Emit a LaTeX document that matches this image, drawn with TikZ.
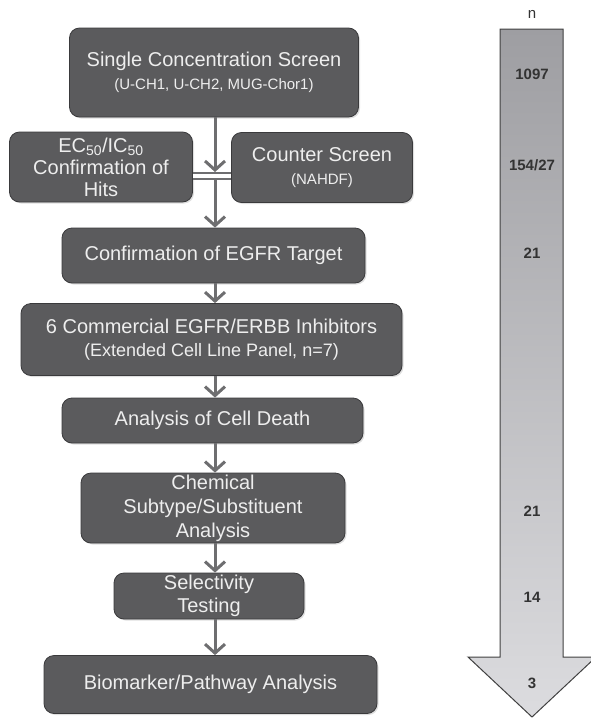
\documentclass[tikz,border=0pt]{standalone}
\usepackage{fontspec}
\setmainfont{Liberation Sans}
\usepackage{tikz}
\usetikzlibrary{arrows.meta,shadows}
\definecolor{boxfill}{HTML}{5B5B5D}
\definecolor{boxline}{HTML}{3A3A3C}
\definecolor{boxtext}{HTML}{EEEEEE}
\definecolor{flowgray}{HTML}{6E6E70}
\definecolor{funneltop}{HTML}{9E9EA2}
\definecolor{funnelbot}{HTML}{DCDCDF}

\begin{document}
\begin{tikzpicture}[x=1pt,y=-1pt,>={Straight Barb[length=9pt,width=20pt]},
stage/.style={draw=boxline,line width=0.8pt,fill=boxfill,rounded corners=10pt,text=boxtext,align=center,inner sep=0pt,
 font=\fontsize{20}{23}\selectfont,drop shadow={opacity=0.25,shadow xshift=1.5pt,shadow yshift=-1.5pt}},
flow/.style={->,draw=flowgray,line width=3pt},
count/.style={font=\fontsize{15}{17}\selectfont\bfseries,text=black!80}]
\useasboundingbox (0,0) rectangle (590,718);
% screening funnel
\node[stage,minimum width=289pt,minimum height=89pt] (single) at (214,72.5) {Single Concentration Screen\\{\fontsize{15}{17}\selectfont(U-CH1, U-CH2, MUG-Chor1)}};
\node[stage,minimum width=183pt,minimum height=70pt,font=\fontsize{20}{22}\selectfont] (hits) at (101,167) {EC\textsubscript{50}/IC\textsubscript{50}\\Confirmation of\\Hits};
\node[stage,minimum width=181pt,minimum height=70pt] (counter) at (322,167.5) {Counter Screen\\{\fontsize{15}{17}\selectfont(NAHDF)}};
\node[stage,minimum width=303pt,minimum height=55pt] (target) at (213.5,255.5) {Confirmation of EGFR Target};
\node[stage,minimum width=381pt,minimum height=72pt] (inhib) at (211.5,339.5) {6 Commercial EGFR/ERBB Inhibitors\\{\fontsize{18}{20}\selectfont(Extended Cell Line Panel, n=7)}};
\node[stage,minimum width=301pt,minimum height=45pt] (death) at (212.5,420.5) {Analysis of Cell Death};
\node[stage,minimum width=264pt,minimum height=70pt,font=\fontsize{20}{24}\selectfont] (chem) at (213,508) {Chemical\\Subtype/Substituent\\Analysis};
\node[stage,minimum width=190pt,minimum height=46pt] (select) at (209,596) {Selectivity\\Testing};
\node[stage,minimum width=333pt,minimum height=58pt] (marker) at (210.5,684.5) {Biomarker/Pathway Analysis};
\coordinate (spine) at (215,0);
\coordinate (joint) at (215,176);
\draw[flow] (single.south -| spine) -- ([yshift=4pt]joint);
\draw[flow] (joint) -- (target.north -| spine);
\foreach \a/\b in {target/inhib,inhib/death,death/chem,chem/select,select/marker}
  \draw[flow] (\a.south -| spine) -- (\b.north -| spine);
\draw[flowgray,line width=2pt,double=white,double distance=4pt] (hits.east |- joint) -- (counter.west |- joint);
% n column
\shade[top color=funneltop,bottom color=funnelbot,draw=black!75,line width=1pt]
 (500,29) -- (563,29) -- (563,657) -- (596,657) -- (532,717) -- (468,657) -- (500,657) -- cycle;
\node[font=\fontsize{15}{17}\selectfont,text=black!80] (ntitle) at (532,14) {n};
\foreach \v/\y [count=\i] in {1097/74,154\slash 27/165,21/253,21/511,14/597,3/683}
  \node[count] (n\i) at (532,\y) {\v};
\end{tikzpicture}
\end{document}
